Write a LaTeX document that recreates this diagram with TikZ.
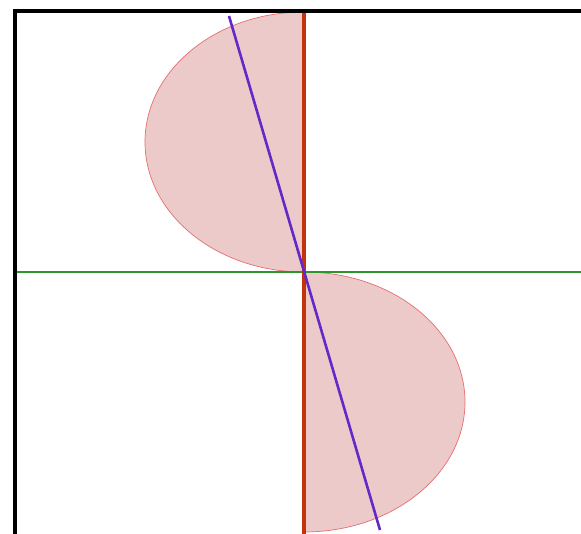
\documentclass[tikz,border=0pt]{standalone}
\usepackage{tikz}
\definecolor{lobefill}{RGB}{236,202,202}
\definecolor{lobeline}{RGB}{232,110,110}
\definecolor{vred}{RGB}{196,52,12}
\definecolor{hgreen}{RGB}{44,150,44}
\definecolor{lpurple}{RGB}{100,40,200}
\begin{document}
\begin{tikzpicture}[x=1pt,y=1pt,
  lobe/.style={fill=lobefill,draw=lobeline,line width=0.7pt},
  axisv/.style={draw=vred,line width=3.5pt},
  axish/.style={draw=hgreen,line width=2pt},
  slant/.style={draw=lpurple,line width=2.6pt},
  frame/.style={draw=black,line width=4pt}]
\useasboundingbox (0,0) rectangle (581,534);
\fill[white] (0,0) rectangle (581,534);
\coordinate (O) at (304,262);
\path[lobe] (O) arc[start angle=-90,end angle=-270,x radius=159,y radius=130] -- cycle;
\path[lobe] (O) arc[start angle=90,end angle=-90,x radius=161,y radius=130] -- cycle;
\coordinate (hl) at (17,262);
\coordinate (hr) at (581,262);
\draw[axish] (hl) -- (hr);
\coordinate (vt) at (304,523);
\coordinate (vb) at (304,0);
\draw[axisv] (vt) -- (vb);
\coordinate (pt) at (229,518);
\coordinate (pb) at (380,4);
\draw[slant] (pt) -- (pb);
\coordinate (fb) at (15,0);
\coordinate (fc) at (15,523);
\coordinate (fr) at (581,523);
\draw[frame] (fb) -- (fc) -- (fr);
\end{tikzpicture}
\end{document}
